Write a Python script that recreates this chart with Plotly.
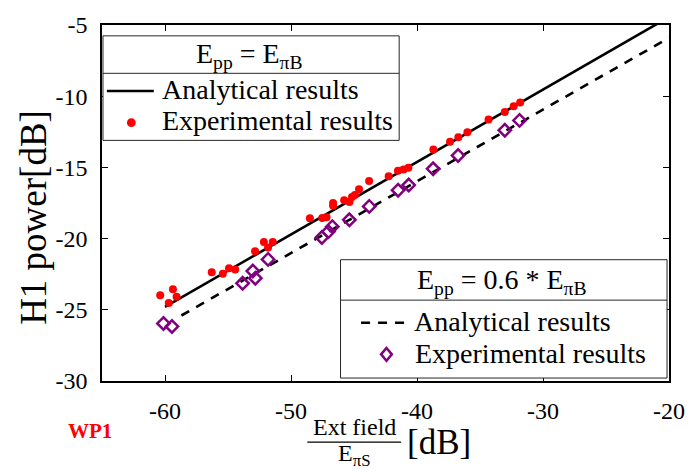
import plotly.graph_objects as go

# ---- data -------------------------------------------------------------
# Experimental points, E_pp = E_piB
exp1_x = [-60.38, -59.37, -59.08, -59.70, -56.29, -55.41, -54.92, -54.43,
          -52.85, -52.15, -51.82, -51.45, -48.50, -47.52, -47.18, -46.66,
          -46.66, -45.78, -45.36, -45.16, -44.93, -44.60, -43.80, -42.25,
          -41.51, -41.07, -40.68, -38.70, -37.38, -36.72, -36.00, -34.32,
          -33.03, -32.33, -31.81]
exp1_y = [-23.98, -23.56, -24.09, -24.53, -22.36, -22.47, -22.08, -22.17,
          -20.88, -20.24, -20.62, -20.24, -18.57, -18.55, -18.50, -17.69,
          -17.50, -17.31, -17.43, -17.08, -16.93, -16.54, -15.96, -15.62,
          -15.23, -15.15, -15.02, -13.75, -13.19, -12.89, -12.53, -11.63,
          -11.11, -10.70, -10.44]

# Experimental points, E_pp = 0.6 * E_piB
exp2_x = [-60.12, -59.45, -53.84, -53.03, -52.83, -51.82, -47.55, -47.03,
          -46.72, -45.37, -43.79, -41.50, -40.66, -38.72, -36.74, -33.03,
          -31.86]
exp2_y = [-25.96, -26.17, -23.14, -22.28, -22.78, -21.46, -19.92, -19.51,
          -19.16, -18.68, -17.74, -16.60, -16.24, -15.10, -14.16, -12.39,
          -11.70]

# Analytical curves (straight lines in dB)
ana1_x = [-60.0, -20.0]
ana1_y = [-24.8, -4.44]
ana2_x = [-58.7, -20.0]
ana2_y = [-25.4, -5.9]

x_ticks = [-60, -50, -40, -30, -20]
x_tick_labels = ["-60", "-50", "-40", "-30", "-20"]
y_ticks = [-5, -10, -15, -20, -25, -30]
y_tick_labels = ["-5", "-10", "-15", "-20", "-25", "-30"]

# ---- styling ----------------------------------------------------------
W, H = 697, 472
L, R, T, B = 102, 682, 20, 381          # plot area in pixels
FONT = "Liberation Serif"
RED = "#FF0000"
PURPLE = "#800080"
DASH = "9px,8px"
LEG_SIZE = 28


def px(x):
    return (x - L) / (R - L)


def py(y):
    return (B - y) / (B - T)


fig = go.Figure()

fig.add_trace(go.Scatter(x=ana1_x, y=ana1_y, mode="lines",
                         line=dict(color="black", width=2.6),
                         showlegend=False, hoverinfo="skip"))
fig.add_trace(go.Scatter(x=ana2_x, y=ana2_y, mode="lines",
                         line=dict(color="black", width=2.6, dash=DASH),
                         showlegend=False, hoverinfo="skip"))
fig.add_trace(go.Scatter(x=exp1_x, y=exp1_y, mode="markers",
                         marker=dict(color=RED, size=8, symbol="circle",
                                     line=dict(width=0)),
                         showlegend=False))
fig.add_trace(go.Scatter(x=exp2_x, y=exp2_y, mode="markers",
                         marker=dict(color=PURPLE, size=9.5,
                                     symbol="diamond-open",
                                     line=dict(color=PURPLE, width=2.5)),
                         showlegend=False))

axis_common = dict(
    showline=True, linecolor="black", linewidth=1.5, mirror="ticks",
    ticks="inside", ticklen=6, tickwidth=1.2, tickcolor="black",
    showgrid=False, zeroline=False, ticklabeloverflow="allow",
    tickfont=dict(family=FONT, size=24, color="black"),
)

fig.update_xaxes(range=[-65, -20], tickvals=x_ticks, ticktext=x_tick_labels,
                 ticklabelstandoff=7, **axis_common)
fig.update_yaxes(range=[-30, -5], tickvals=y_ticks, ticktext=y_tick_labels,
                 ticklabelstandoff=8, **axis_common)

shapes = []
annotations = []


def text(x, y, s, size, anchor="center", color="black", angle=0):
    annotations.append(dict(
        xref="paper", yref="paper", x=px(x), y=py(y), text=s,
        showarrow=False, xanchor=anchor, yanchor="middle", textangle=angle,
        font=dict(family=FONT, size=size, color=color)))


# legend box 1
lg1 = dict(x0=103, x1=406, y0=31, y1=137, sep=69)
shapes.append(dict(type="rect", xref="paper", yref="paper", layer="above",
                   x0=px(lg1["x0"]), x1=px(lg1["x1"]),
                   y0=py(lg1["y1"]), y1=py(lg1["y0"]),
                   fillcolor="white", line=dict(color="#262626", width=1)))
shapes.append(dict(type="line", xref="paper", yref="paper", layer="above",
                   x0=px(lg1["x0"]), x1=px(lg1["x1"]),
                   y0=py(lg1["sep"]), y1=py(lg1["sep"]),
                   line=dict(color="#262626", width=1)))
text(253, 51, "E<sub>pp</sub> = E<sub>πB</sub>", LEG_SIZE)
shapes.append(dict(type="line", xref="paper", yref="paper", layer="above",
                   x0=px(107), x1=px(155), y0=py(87), y1=py(87),
                   line=dict(color="black", width=2.6)))
text(161, 85, "Analytical results", LEG_SIZE, anchor="left")
shapes.append(dict(type="circle", xref="paper", yref="paper", layer="above",
                   x0=px(127.5), x1=px(136.5), y0=py(123.5), y1=py(114.5),
                   fillcolor=RED, line=dict(width=0)))
text(161, 117, "Experimental results", LEG_SIZE, anchor="left")

# legend box 2
lg2 = dict(x0=346, x1=680, y0=258, y1=378, sep=299)
shapes.append(dict(type="rect", xref="paper", yref="paper", layer="above",
                   x0=px(lg2["x0"]), x1=px(lg2["x1"]),
                   y0=py(lg2["y1"]), y1=py(lg2["y0"]),
                   fillcolor="white", line=dict(color="#262626", width=1)))
shapes.append(dict(type="line", xref="paper", yref="paper", layer="above",
                   x0=px(lg2["x0"]), x1=px(lg2["x1"]),
                   y0=py(lg2["sep"]), y1=py(lg2["sep"]),
                   line=dict(color="#262626", width=1)))
text(511, 280, "E<sub>pp</sub> = 0.6 * E<sub>πB</sub>", LEG_SIZE)
shapes.append(dict(type="line", xref="paper", yref="paper", layer="above",
                   x0=px(367), x1=px(417), y0=py(322), y1=py(322),
                   line=dict(color="black", width=2.6, dash=DASH)))
text(419, 321, "Analytical results", LEG_SIZE, anchor="left")
dx, dy = 5.5, 6.5
cx, cy = 393, 354
shapes.append(dict(
    type="path", xref="paper", yref="paper", layer="above",
    path=(f"M {px(cx)},{py(cy - dy)} L {px(cx + dx)},{py(cy)} "
          f"L {px(cx)},{py(cy + dy)} L {px(cx - dx)},{py(cy)} Z"),
    line=dict(color=PURPLE, width=2.5)))
text(420, 353, "Experimental results", LEG_SIZE, anchor="left")

# axis titles
text(32, 215, "H1 power[dB]", 37, angle=-90)
text(360, 428, "Ext field", 24)
shapes.append(dict(type="line", xref="paper", yref="paper",
                   x0=px(312), x1=px(408), y0=py(443), y1=py(443),
                   line=dict(color="black", width=1.2)))
text(360, 456, "E<sub>πS</sub>", 24)
text(412, 443, "[dB]", 35, anchor="left")

# work-point tag
text(90, 432, "<b>WP1</b>", 21, color=RED)

fig.update_layout(
    width=W, height=H,
    margin=dict(l=L, r=W - R, t=T, b=H - B, pad=0),
    paper_bgcolor="white", plot_bgcolor="white",
    shapes=shapes, annotations=annotations,
    showlegend=False,
)

fig.write_html("out.html")
